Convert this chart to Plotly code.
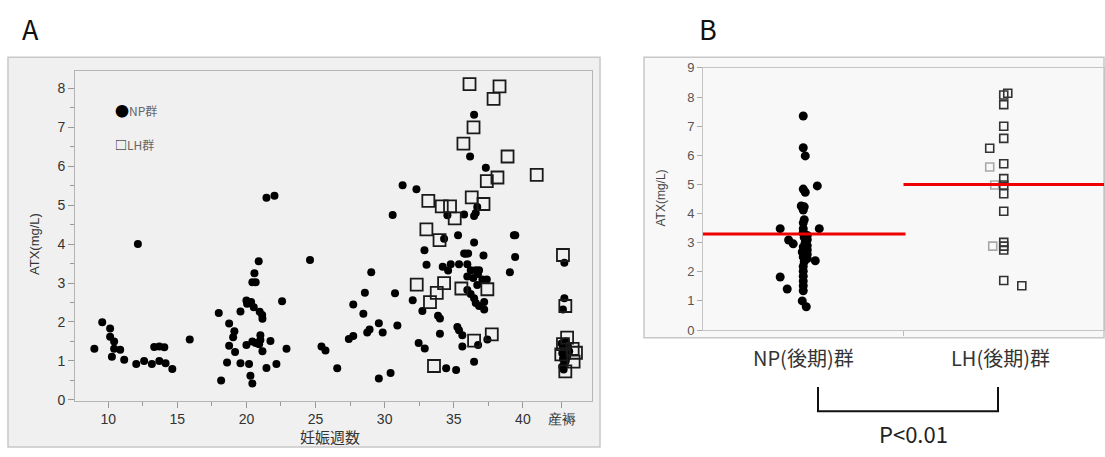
import plotly.graph_objects as go

W, H = 1105, 457

# ---------------- Panel A data ----------------
np_weeks = [9.0, 9.57, 10.14, 10.14, 10.43, 10.43, 10.87, 10.27, 11.16, 12.03, 12.15, 12.6, 13.16, 13.33, 13.7,
            14.06, 13.7, 14.15, 14.64, 15.9, 18.0, 18.17, 18.75, 19.13, 19.04, 18.75, 19.18, 18.6, 19.57, 19.57,
            20.0, 20.05, 20.34, 20.53, 20.96, 21.14, 21.16, 20.0, 20.19, 20.29, 20.43, 20.43, 20.67, 21.01, 21.01,
            20.92, 21.16, 21.74, 21.45, 22.17, 22.58, 22.9, 20.43, 20.67, 20.58, 20.89, 21.45, 22.03, 24.6, 25.43,
            25.72, 26.57, 27.41, 27.73, 27.73, 28.46, 28.57, 28.74, 28.91, 29.03, 29.58, 29.86, 29.58, 30.43, 30.75,
            30.92, 30.58, 31.3, 32.3, 32.03, 32.73, 32.88, 33.03, 33.86, 34.0, 34.0, 32.46, 32.9, 34.45, 35.17,
            34.54, 34.3, 36.47, 36.18, 37.32, 36.7, 36.59, 36.47, 35.75, 35.31, 39.35, 39.45, 36.47, 35.75, 36.04,
            37.15, 39.44, 34.2, 34.78, 34.59, 35.38, 35.98, 35.87, 39.06, 36.23, 36.59, 36.83, 35.98, 36.41, 36.75,
            37.07, 37.39, 35.98, 36.22, 36.47, 36.59, 36.83, 37.2, 37.2, 36.7, 35.26, 35.38, 35.62, 35.62, 36.76,
            37.43, 36.47,
            43.0, 43.0, 42.9, 42.8, 42.9, 43.05, 42.85, 43.0, 42.9, 43.1, 43.25, 43.35, 42.85, 43.0, 43.2, 43.1, 42.95]
np_atx = [1.31, 1.99, 1.83, 1.62, 1.5, 1.31, 1.29, 1.11, 1.03, 0.92, 4.0, 1.0, 0.92, 1.36, 1.37,
          1.35, 1.0, 0.94, 0.79, 1.55, 2.23, 0.5, 1.96, 1.76, 1.61, 1.39, 1.23, 0.96, 2.27, 0.94,
          2.55, 2.47, 2.51, 2.38, 2.26, 2.18, 2.08, 1.41, 0.92, 0.62, 0.42, 1.5, 1.46, 1.66, 1.54,
          1.43, 1.25, 1.51, 0.82, 0.92, 2.53, 1.31, 3.02, 3.02, 3.25, 3.56, 5.19, 5.24, 3.59, 1.37,
          1.27, 0.81, 1.56, 1.64, 2.45, 2.21, 2.75, 1.73, 1.81, 3.28, 1.97, 1.73, 0.55, 0.69, 2.74,
          1.91, 4.75, 5.51, 5.41, 2.56, 2.28, 3.84, 3.47, 2.16, 2.09, 1.70, 1.46, 1.32, 0.81, 0.77,
          4.74, 4.14, 7.32, 6.25, 5.96, 4.95, 4.8, 4.72, 4.76, 4.23, 4.23, 4.23, 4.04, 3.76, 3.76,
          3.71, 3.67, 3.42, 3.48, 3.32, 3.48, 3.48, 3.75, 3.28, 3.33, 3.33, 3.33, 3.17, 3.13, 3.23,
          3.09, 3.09, 2.82, 2.72, 2.61, 2.49, 2.41, 2.51, 2.32, 2.95, 1.87, 1.79, 1.66, 1.37, 1.41,
          1.55, 0.98,
          3.52, 2.61, 2.32, 1.45, 1.35, 1.3, 1.2, 1.15, 1.05, 1.0, 1.38, 1.25, 0.85, 0.95, 1.1, 1.5, 0.78]

lh_weeks = [33.16, 34.13, 34.73, 33.02, 33.97, 36.14, 38.31, 37.88, 36.43, 35.7, 38.89, 37.39, 38.16, 41.0,
            36.3, 37.15, 35.07, 32.32, 33.28, 33.77, 34.3, 35.55, 37.43, 36.47, 37.75, 33.57,
            42.9, 43.07, 43.2, 42.9, 43.6, 43.84, 43.67, 43.07, 42.78]
lh_atx = [5.11, 4.97, 4.97, 4.38, 4.10, 8.11, 8.05, 7.73, 7.0, 6.58, 6.25, 5.62, 5.71, 5.78,
          5.2, 5.03, 4.66, 2.96, 2.51, 2.75, 3.0, 2.86, 2.84, 1.52, 1.68, 0.87,
          3.72, 2.41, 1.6, 1.43, 1.31, 1.21, 0.98, 0.73, 1.17]

week_ticks = [10, 15, 20, 25, 30, 35, 40, 42.8]
week_labels = ["10", "15", "20", "25", "30", "35", "40", "産褥"]

# ---------------- Panel B data ----------------
groups = ["NP(後期)群", "LH(後期)群"]
npB_atx = [7.35, 6.26, 5.98, 4.95, 4.84, 4.73, 4.26, 4.23, 4.12, 3.79, 3.68, 3.48, 3.48, 3.48, 3.32,
           3.09, 2.96, 3.35, 3.18, 3.01, 2.85, 2.68, 2.51, 2.35, 2.18, 2.02, 1.85, 1.68, 1.52, 1.35,
           3.25, 3.1, 2.9, 2.75, 2.6, 2.45, 2.38, 1.82, 1.41, 1.0, 0.8]
npB_jitter = [0, 0, 0.01, 0.07, 0, 0.01, -0.01, 0.005, 0, 0.005, 0, -0.115, 0.08, 0, 0,
              -0.073, -0.05, 0, 0.005, 0.01, 0, -0.005, 0, 0.005, 0, 0, 0, 0, 0, 0,
              0.02, 0.02, 0.02, 0.02, 0.02, 0.02, 0.06, -0.115, -0.08, -0.005, 0.015]
lhB_atx = [8.13, 8.07, 7.74, 7.0, 6.58, 6.24, 5.71, 5.2, 4.98, 4.68, 4.08, 3.01, 2.88, 2.75, 1.7, 1.52]
lhB_jitter = [0.02, 0.0, 0.0, 0, 0, -0.07, 0, 0, 0, 0, 0, 0, 0, 0, 0, 0.09]
lhB_gray_atx = [5.6, 4.98, 2.88]
lhB_gray_jitter = [-0.07, -0.045, -0.055]
means = [3.3, 5.0]
p_text = "P<0.01"


def px(x):
    return x / W


def py(y):
    return 1 - y / H


fig = go.Figure()

fig.add_trace(go.Scatter(x=np_weeks, y=np_atx, mode="markers", xaxis="x", yaxis="y",
                         marker=dict(color="black", size=8, symbol="circle"), showlegend=False))
fig.add_trace(go.Scatter(x=lh_weeks, y=lh_atx, mode="markers", xaxis="x", yaxis="y",
                         marker=dict(color="#1a1a1a", size=12, symbol="square-open", line=dict(width=1.8)),
                         showlegend=False))

fig.add_trace(go.Scatter(x=[0 + j for j in npB_jitter], y=npB_atx, mode="markers", xaxis="x2", yaxis="y2",
                         marker=dict(color="black", size=9, symbol="circle"), showlegend=False))
fig.add_trace(go.Scatter(x=[1 + j for j in lhB_gray_jitter], y=lhB_gray_atx, mode="markers", xaxis="x2", yaxis="y2",
                         marker=dict(color="#a8a8a8", size=8, symbol="square-open", line=dict(width=1.6)),
                         showlegend=False))
fig.add_trace(go.Scatter(x=[1 + j for j in lhB_jitter], y=lhB_atx, mode="markers", xaxis="x2", yaxis="y2",
                         marker=dict(color="#333333", size=8, symbol="square-open", line=dict(width=1.6)),
                         showlegend=False))

tickfont = dict(family="Liberation Sans, Arial", size=14, color="#333")
axis_line = "#b5b5b5"

fig.update_layout(
    width=W, height=H, margin=dict(l=0, r=0, t=0, b=0),
    paper_bgcolor="white", plot_bgcolor="white",
    xaxis=dict(domain=[px(75), px(592)], range=[7.6, 45.0], anchor="y",
               tickmode="array", tickvals=week_ticks, ticktext=week_labels,
               ticks="outside", ticklen=6, tickcolor="#999", showgrid=False, zeroline=False,
               showline=True, linecolor=axis_line, mirror=True, tickfont=tickfont,
               minor=dict(tickmode="array", tickvals=[12.5, 17.5, 22.5, 27.5, 32.5, 37.5],
                          ticks="outside", ticklen=4, tickcolor="#999")),
    yaxis=dict(domain=[py(407), py(66)], range=[-0.02, 8.45], anchor="x",
               tickmode="array", tickvals=list(range(0, 9)),
               ticks="outside", ticklen=6, tickcolor="#999", showgrid=False, zeroline=False,
               showline=True, linecolor=axis_line, mirror=True, tickfont=tickfont,
               minor=dict(tickmode="array", tickvals=[i + 0.5 for i in range(8)],
                          ticks="outside", ticklen=4, tickcolor="#999")),
    xaxis2=dict(domain=[px(703), px(1104)], range=[-0.5, 1.5], anchor="y2",
                tickmode="array", tickvals=[0.5], ticktext=[""], ticks="outside", ticklen=5,
                tickcolor="#bbb", showgrid=False, zeroline=False, showline=True,
                linecolor="#c4c4c4", mirror=True),
    yaxis2=dict(domain=[py(334), py(63)], range=[0, 9], anchor="x2",
                tickmode="array", tickvals=list(range(0, 10)), ticks="outside", ticklen=5,
                tickcolor="#aaa", showgrid=False, zeroline=False, showline=True,
                linecolor="#c4c4c4", mirror=True,
                tickfont=dict(family="Liberation Sans, Arial", size=13, color="#555")),
)

shapes = [
    dict(type="rect", xref="paper", yref="paper", x0=px(8), x1=px(600), y0=py(455), y1=py(52),
         fillcolor="#f0f0f0", line=dict(color="#c8c8c8", width=1.5), layer="below"),
    dict(type="rect", xref="paper", yref="paper", x0=px(644), x1=px(1104), y0=py(342), y1=py(52),
         fillcolor="#f8f8f8", line=dict(color="#c8c8c8", width=1.5), layer="below"),
    dict(type="line", xref="x2", yref="y2", x0=-0.5, x1=0.51, y0=means[0], y1=means[0],
         line=dict(color="#ee0000", width=3)),
    dict(type="line", xref="x2", yref="y2", x0=0.5, x1=1.5, y0=means[1], y1=means[1],
         line=dict(color="#ee0000", width=3)),
    dict(type="path", xref="paper", yref="paper",
         path=f"M {px(818)},{py(393)} L {px(818)},{py(418)} L {px(998)},{py(418)} L {px(998)},{py(393)}",
         line=dict(color="#111", width=2)),
]
fig.update_layout(shapes=shapes)

jp = "Noto Sans CJK JP"
ann = [
    dict(text="A", x=px(30), y=py(22), font=dict(family=jp, size=27, color="#111")),
    dict(text="B", x=px(708), y=py(22), font=dict(family=jp, size=27, color="#111")),
    dict(text="ATX(mg/L)", x=px(35), y=py(245), textangle=-90,
         font=dict(family="Liberation Sans, Arial", size=13, color="#333")),
    dict(text="妊娠週数", x=px(330), y=py(444), font=dict(family=jp, size=15, color="#333")),
    dict(text="<span style='color:black;font-size:14px'>●</span>NP群", x=px(113), y=py(107), xanchor="left",
         font=dict(family=jp, size=12, color="#666")),
    dict(text="<span style='color:black'>□</span>LH群", x=px(113), y=py(142), xanchor="left",
         font=dict(family=jp, size=12, color="#666")),
    dict(text="ATX(mg/L)", x=px(661), y=py(198), textangle=-90,
         font=dict(family="Liberation Sans, Arial", size=12, color="#444")),
    dict(text=groups[0], x=px(803), y=py(362), font=dict(family=jp, size=20, color="#333")),
    dict(text=groups[1], x=px(1000), y=py(362), font=dict(family=jp, size=20, color="#333")),
    dict(text=p_text, x=px(913), y=py(440), font=dict(family=jp, size=22, color="#222")),
]
for a in ann:
    a.update(xref="paper", yref="paper", showarrow=False)
    a.setdefault("xanchor", "center")
    a.setdefault("yanchor", "middle")
fig.update_layout(annotations=ann)

fig.write_html("out.html",
               config={"displayModeBar": False},
               post_script="document.body.style.margin='0';document.body.style.padding='0';"
                           "document.documentElement.style.overflow='hidden';"
                           "document.body.style.overflow='hidden';"
                           "var d=document.getElementById('{plot_id}');"
                           "d.style.position='fixed';d.style.left='0px';d.style.top='0px';")
